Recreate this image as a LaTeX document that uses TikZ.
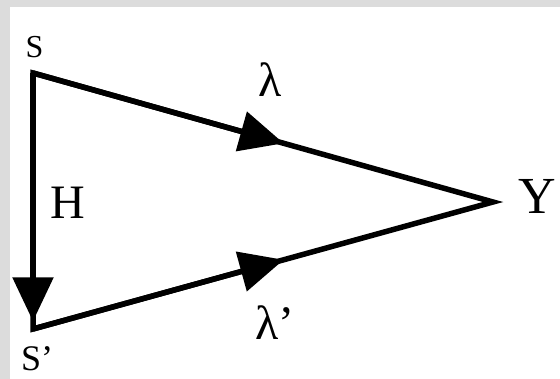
\documentclass[tikz,border=0pt]{standalone}
\usepackage{fontspec}
\setmainfont{Liberation Serif}
\usetikzlibrary{arrows.meta,calc}
\definecolor{bggray}{RGB}{220,220,220}
\tikzset{
    edge/.style={line width=5.5pt,line join=miter},
    midarrow/.style={line width=5.5pt,-{Triangle[length=44pt,width=40pt]}},
    lbl/.style={inner sep=0pt,anchor=base}
}

\begin{document}
\begin{tikzpicture}[x=1pt,y=-1pt]
    \fill[bggray] (0,0) rectangle (560,379);
    \fill[white] (10,7) rectangle (560,379);
    \useasboundingbox (0,0) rectangle (560,379);

    \coordinate (S) at (33,73);
    \coordinate (Sp) at (33,329);
    \coordinate (Y) at (493,202);

    \node[lbl,font=\fontsize{32}{32}\selectfont] (s) at (34.5,58) {S};
    \node[lbl,anchor=base west,font=\fontsize{36}{36}\selectfont] (sp) at (21,371) {S’};
    \node[lbl,font=\fontsize{48}{48}\selectfont] (h) at (68,219) {H};
    \node[lbl,font=\fontsize{52}{52}\selectfont] (y) at (537,214) {Y};
    \node[lbl,font=\fontsize{48}{48}\selectfont] (lam) at (270,97) {λ};
    \node[lbl,anchor=base west,font=\fontsize{48}{48}\selectfont] (lamp) at (255,340) {λ’};

    \draw[edge] (S) -- (Sp) -- (Y) -- cycle;
    \draw[midarrow] (S) -- ($(S)!0.97!(Sp)$);
    \draw[midarrow] (S) -- ($(S)!0.545!(Y)$);
    \draw[midarrow] (Sp) -- ($(Sp)!0.545!(Y)$);
\end{tikzpicture}
\end{document}
